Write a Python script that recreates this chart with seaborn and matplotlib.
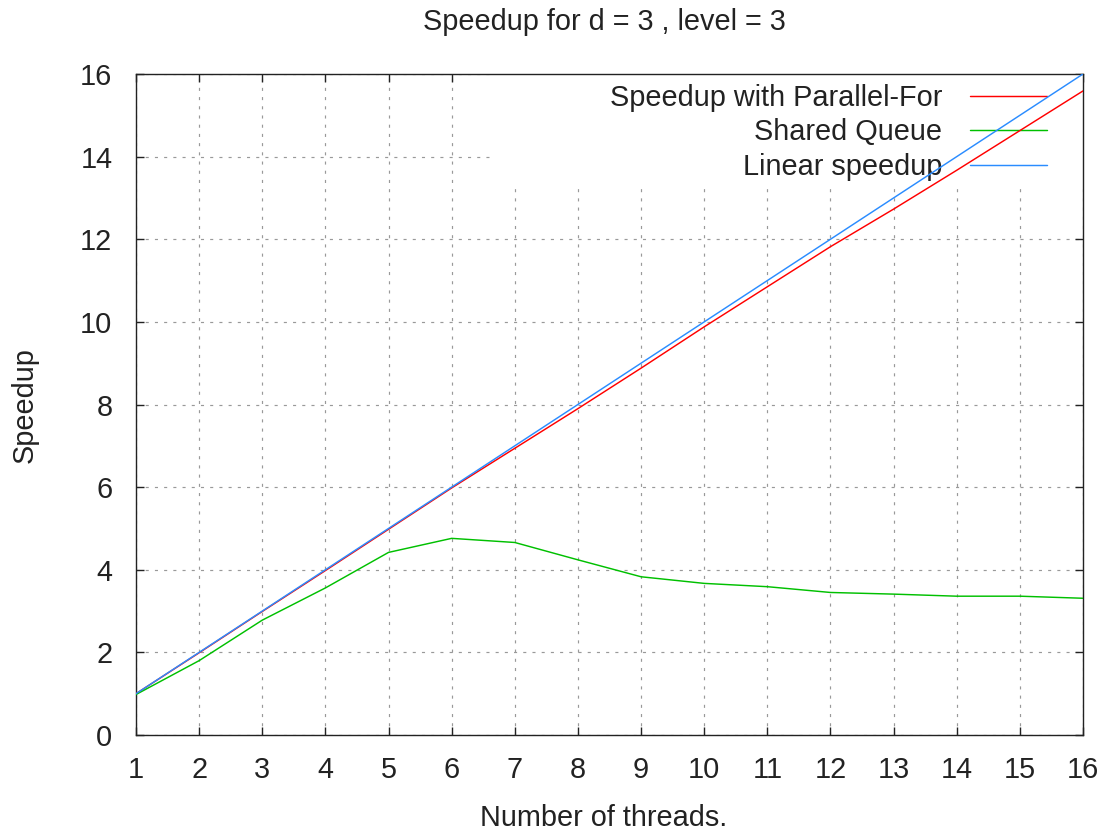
import matplotlib
matplotlib.use("Agg")
import matplotlib.pyplot as plt
import seaborn as sns
import pandas as pd
from matplotlib.patches import Rectangle

# ---- data ----
threads = list(range(1, 17))
parallel_for = [1.0, 1.99, 2.99, 3.98, 4.98, 5.98, 6.94, 7.90, 8.88, 9.88,
                10.85, 11.82, 12.73, 13.67, 14.63, 15.59]
shared_queue = [0.98, 1.80, 2.78, 3.56, 4.42, 4.76, 4.66, 4.24, 3.83, 3.67,
                3.59, 3.45, 3.41, 3.36, 3.36, 3.31]
linear = [1, 2, 3, 4, 5, 6, 7, 8, 9, 10, 11, 12, 13, 14, 15, 16]
series_names = ["Speedup with Parallel-For", "Shared Queue", "Linear speedup"]
series_colors = ["#ff0000", "#00c000", "#2a8cff"]
xticks = list(range(1, 17))
yticks = list(range(0, 17, 2))
title = "Speedup for d = 3 , level = 3"
xlabel = "Number of threads."
ylabel = "Speedup"

df = pd.DataFrame({
    "threads": threads * 3,
    "speedup": parallel_for + shared_queue + linear,
    "series": [series_names[0]] * 16 + [series_names[1]] * 16 + [series_names[2]] * 16,
})

sns.set_style("ticks")
plt.rcParams["font.family"] = ["Liberation Sans", "DejaVu Sans"]
FS = 20.8

fig, ax = plt.subplots(figsize=(11.04, 8.31), dpi=100)
fig.subplots_adjust(left=136/1104, right=1083/1104, bottom=1-735/831, top=1-74/831)

sns.lineplot(data=df, x="threads", y="speedup", hue="series",
             hue_order=series_names, palette=series_colors,
             linewidth=1.05, ax=ax, legend=True, zorder=3)

ax.set_xlim(1, 16)
ax.set_ylim(0, 16)
ax.set_xticks(xticks)
ax.set_yticks(yticks)
ax.set_xlabel("")
ax.set_ylabel("")

ax.grid(True, color="#999999", linewidth=0.85, linestyle=(0, (2.6, 5.2)))
ax.set_axisbelow(True)

for s in ax.spines.values():
    s.set_visible(True)
    s.set_linewidth(1.0)
    s.set_color("#222222")
ax.tick_params(axis="both", direction="in", length=6, width=1.0, color="#222222",
               top=True, right=True, labelsize=FS, labelcolor="#222222")
ax.tick_params(axis="y", pad=17)
ax.tick_params(axis="x", pad=15)

# white key background (gnuplot key box, above grid, below lines)
ax.add_patch(Rectangle((6.655, 13.36), 16 - 6.655, 16 - 13.36, transform=ax.transData,
                       facecolor="white", edgecolor="none", zorder=1))

handles, labels = ax.get_legend_handles_labels()
leg = ax.legend(handles, labels, loc="upper right", bbox_to_anchor=(0.962, 0.985),
                frameon=False, markerfirst=False, fontsize=FS, handlelength=2.65,
                handletextpad=0.98, labelspacing=0.22, borderpad=0, borderaxespad=0)
for t in leg.get_texts():
    t.set_color("#222222")
leg.set_zorder(2)

fig.text(604/1104, 1-22/831, title, ha="center", va="center", fontsize=FS, color="#222222")
fig.text(604/1104, 1-818/831, xlabel, ha="center", va="center", fontsize=FS, color="#222222")
fig.text(25/1104, 1-405/831, ylabel, ha="center", va="center", rotation=90, fontsize=FS, color="#222222")

fig.savefig("out.png", dpi=100)
